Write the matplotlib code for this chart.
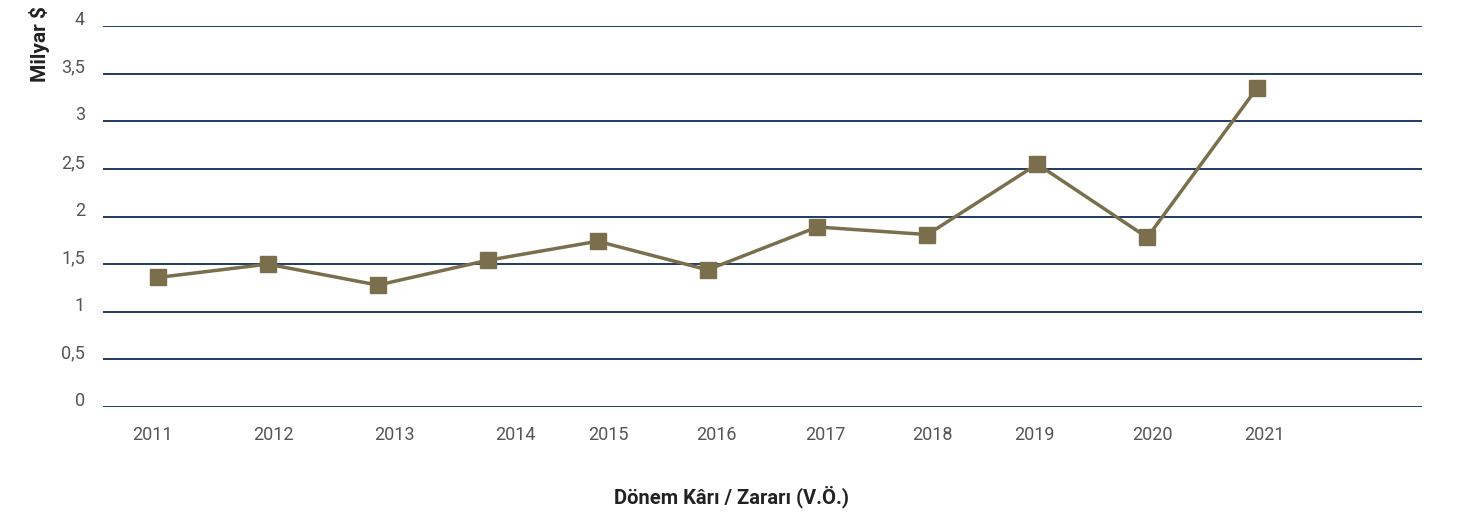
import matplotlib
matplotlib.use("Agg")
import matplotlib.pyplot as plt
import matplotlib.transforms as mtransforms

years = ["2011", "2012", "2013", "2014", "2015", "2016", "2017", "2018", "2019", "2020", "2021"]
profit = [1.36, 1.50, 1.28, 1.54, 1.74, 1.44, 1.89, 1.81, 2.55, 1.78, 3.35]
y_ticks = [0, 0.5, 1, 1.5, 2, 2.5, 3, 3.5, 4]
y_labels = ["0", "0,5", "1", "1,5", "2", "2,5", "3", "3,5", "4"]

# year labels in the original sit slightly off the point centres
label_pos = [0.45, 1.55, 2.65, 3.75, 4.60, 5.58, 6.57, 7.55, 8.47, 9.55, 10.57]

line_color = "#7a6e4c"
grid_color = "#1f3b63"
text_color = "#555555"

plt.rcParams["font.family"] = ["Roboto", "DejaVu Sans"]

fig = plt.figure(figsize=(14.61, 5.15), dpi=100)
ax = fig.add_axes([103 / 1461, 1 - 407 / 515, 1319 / 1461, 381 / 515])

x = [i + 0.5 for i in range(len(years))]
ax.plot(x, profit, color=line_color, lw=2.5, marker="s", markersize=11,
        markerfacecolor=line_color, markeredgecolor=line_color, zorder=3)

ax.set_xlim(0, 12)
ax.set_ylim(0, 4)
ax.set_yticks(y_ticks)
ax.set_yticklabels(y_labels, color=text_color, fontsize=13)
for y in y_ticks:
    ax.axhline(y, color=grid_color, lw=1.4, zorder=1)

ax.set_xticks(label_pos)
ax.set_xticklabels(years, color=text_color, fontsize=13)
ax.tick_params(axis="both", length=0)
ax.tick_params(axis="x", pad=14)
ax.tick_params(axis="y", pad=13)
for s in ax.spines.values():
    s.set_visible(False)

# y labels sit a little above their grid lines
shift = mtransforms.ScaledTranslation(0, 8 / 100, fig.dpi_scale_trans)
for lbl in ax.get_yticklabels():
    lbl.set_transform(lbl.get_transform() + shift)

fig.text(40 / 1461, 1 - 44 / 515, "Milyar $", rotation=90, ha="center", va="center",
         fontsize=15, fontweight="bold", color="#222222")
fig.text(731 / 1461, 1 - 497 / 515, "Dönem Kârı / Zararı (V.Ö.)", ha="center", va="center",
         fontsize=14.5, fontweight="bold", color="#222222")

fig.savefig("out.png", dpi=100)
